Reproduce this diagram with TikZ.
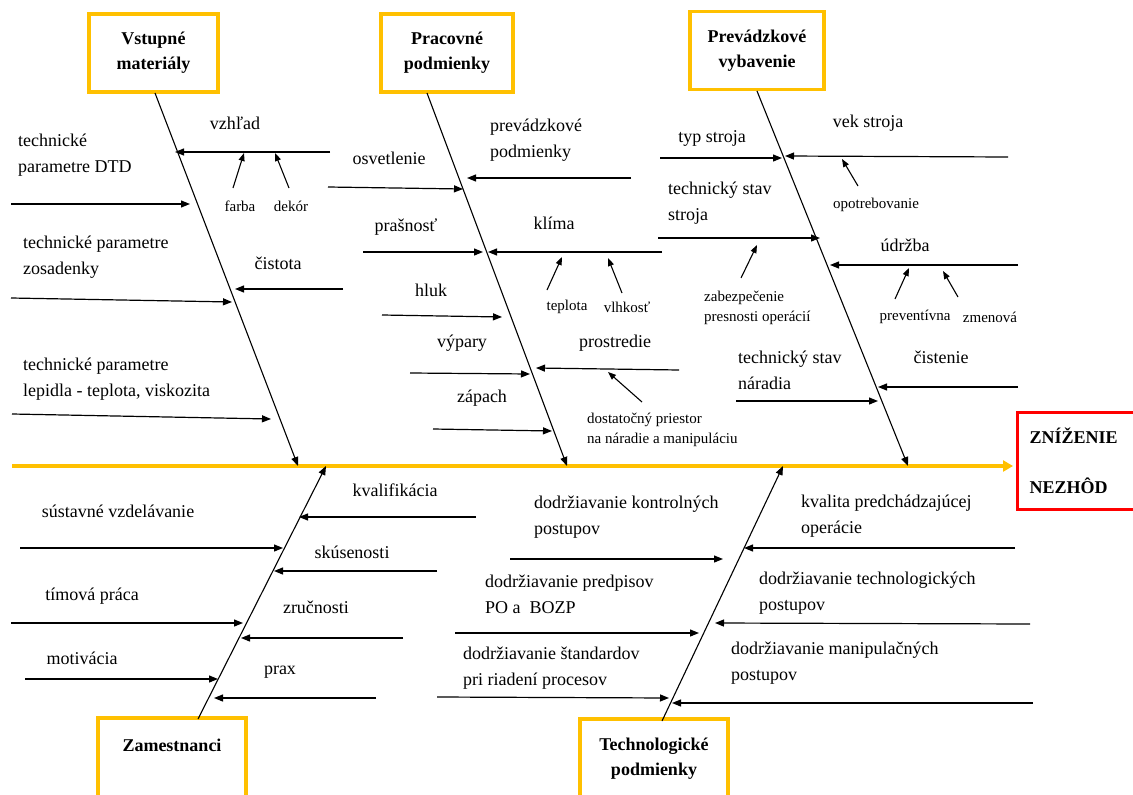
\documentclass[tikz,border=0pt]{standalone}
\usepackage{fontspec}
\setmainfont{Liberation Serif}
\usetikzlibrary{arrows.meta}
\definecolor{gold}{HTML}{FFC000}
\definecolor{nezred}{HTML}{FF0000}

\begin{document}
\begin{tikzpicture}[x=1pt,y=-1pt,
  catbox/.style={draw=gold,line width=3.5pt,minimum width=#1,minimum height=78pt,inner sep=0pt,align=center,font=\bfseries\fontsize{18}{25}\selectfont},
  effbox/.style={draw=nezred,line width=3pt,anchor=west,text width=118pt,inner xsep=12pt,inner ysep=0pt,minimum height=97pt,align=left,font=\bfseries\fontsize{18}{50}\selectfont},
  lbl/.style={inner sep=0pt,font=\fontsize{18}{26}\selectfont},
  lbll/.style={lbl,anchor=west,align=left},
  sml/.style={inner sep=0pt,font=\fontsize{15}{20}\selectfont},
  smll/.style={sml,anchor=west,align=left},
  spine/.style={draw=gold,line width=4pt,-{Triangle[length=10pt,width=11pt]}},
  bone/.style={line width=1.1pt,-{Triangle[length=9pt,width=7pt]}},
  sub/.style={line width=1.2pt,-{Triangle[length=9pt,width=7pt]}},
  twig/.style={line width=1.1pt,-{Triangle[length=8pt,width=6pt]}}]
\useasboundingbox (0,0) rectangle (1133,795);
\clip (0,0) rectangle (1133,795);
\fill[white] (0,0) rectangle (1133,795);

\node[catbox=129pt] (vm) at (153.5,53) {Vstupné\\materiály};
\node[catbox=132pt] (pp) at (447,53) {Pracovné\\podmienky};
\node[catbox=134pt] (pv) at (757,50.5) {Prevádzkové\\vybavenie};
\node[catbox=148pt,minimum height=80pt] (zm) at (172,758) {Zamestnanci\\\mbox{}};
\node[catbox=148pt,minimum height=80pt] (tp) at (654,759) {Technologické\\podmienky};
\node[effbox] (eff) at (1016,460.5) {ZNÍŽENIE\\NEZHÔD};

\coordinate (tail) at (12,466);
\draw[spine] (tail) -- ([xshift=-3pt]tail -| eff.west);

\foreach \n/\ax/\ay/\bx/\by in {vm/155/93/298/466, pp/427/93/567/466, pv/757/91/908/466,
    zm/198/719/326/466, tp/662/721/783/466}
  {\coordinate (\n-s) at (\ax,\ay); \coordinate (\n-e) at (\bx,\by);
   \draw[bone] (\n-s) -- (\n-e);}

\foreach \n/\ax/\ay/\bx/\by in {vzhl/330/152/175/152, dtd/11/204/190/204, zos/11/298/232/302,
    cist/343/289/235/289, lep/12/414/271/419,
    osv/328/187/463/189, prevp/631/178/467/178, pras/363/252/483/252, klima/662/252/488/252,
    hluk/382/315/502/317, vyp/410/373/530/374, prostr/679/370/536/368, zap/433/429/552/431,
    typ/660/158/782/158, vek/1008/157/785/156, tss/658/238/820/238, udrz/1018/265/830/265,
    cisten/1018/387/878/387, tsn/736/401/878/401,
    kval/476/517/299/517, sust/20/548/283/548, skus/437/571/274/571, tim/11/623/243/623,
    zruc/403/638/241/638, motiv/25/679/218/679, prax/376/698/214/698,
    kontr/510/559/723/559, kvalop/1015/548/744/548, bozp/455/633/699/633,
    techp/1030/624/715/623, stand/437/697/669/698, manip/1033/703/672/703}
  {\coordinate (\n-s) at (\ax,\ay); \coordinate (\n-e) at (\bx,\by);
   \draw[sub] (\n-s) -- (\n-e);}

\foreach \n/\ax/\ay/\bx/\by in {farba/233/188/244/153, dekor/289/188/275/153,
    tepl/547/290/562/257, vlhk/622/293/608/258, priest/642/402/608/372,
    opot/858/186/842/159, zabez/741/278/757/245, prev/895/299/909/268, zmen/958/297/943/271}
  {\coordinate (\n-s) at (\ax,\ay); \coordinate (\n-e) at (\bx,\by);
   \draw[twig] (\n-s) -- (\n-e);}

\node[lbl] (vzhl) at (235,123) {vzhľad};
\node[sml] (farba) at (240,206) {farba};
\node[sml] (dekor) at (291,206) {dekór};
\node[lbll] (dtd) at (18,155.5) {technické\\parametre DTD};
\node[lbll] (zos) at (23,257) {technické parametre\\zosadenky};
\node[lbl] (cist) at (278,263) {čistota};
\node[lbll] (lep) at (23,379.5) {technické parametre\\lepidla - teplota, viskozita};

\node[lbl] (osv) at (389,158) {osvetlenie};
\node[lbll] (prevp) at (490,140) {prevádzkové\\podmienky};
\node[lbl] (pras) at (406,227) {prašnosť};
\node[lbl] (klima) at (554,223) {klíma};
\node[sml] (tepl) at (567,307) {teplota};
\node[sml] (vlhk) at (627,307) {vlhkosť};
\node[lbl] (hluk) at (431,290) {hluk};
\node[lbl] (vyp) at (462,343) {výpary};
\node[lbl] (prostr) at (615,343) {prostredie};
\node[lbl] (zap) at (482,398) {zápach};
\node[smll] (priest) at (587,429.5) {dostatočný priestor\\na náradie a manipuláciu};

\node[lbl] (typ) at (712,138) {typ stroja};
\node[lbl] (vek) at (868,123) {vek stroja};
\node[sml] (opot) at (876,205) {opotrebovanie};
\node[lbll] (tss) at (668,203.5) {technický stav\\stroja};
\node[smll] (zabez) at (704,307.5) {zabezpečenie\\presnosti operácií};
\node[lbl] (udrz) at (905,245) {údržba};
\node[sml] (prev) at (915,317) {preventívna};
\node[sml] (zmen) at (990,317) {zmenová};
\node[lbl] (cisten) at (941,357) {čistenie};
\node[lbll] (tsn) at (738,370.5) {technický stav\\náradia};

\node[lbl] (kval) at (395,490) {kvalifikácia};
\node[lbl] (sust) at (118,511) {sústavné vzdelávanie};
\node[lbl] (skus) at (352,552) {skúsenosti};
\node[lbl] (tim) at (92,596) {tímová práca};
\node[lbl] (zruc) at (316,607) {zručnosti};
\node[lbl] (motiv) at (82,658) {motivácia};
\node[lbl] (prax) at (280,672) {prax};

\node[lbll] (kontr) at (534,517.5) {dodržiavanie kontrolných\\postupov};
\node[lbll] (bozp) at (485,594.5) {dodržiavanie predpisov\\PO a\ \ BOZP};
\node[lbll] (stand) at (463,668) {dodržiavanie štandardov\\pri riadení procesov};
\node[lbll] (kvalop) at (801,516.5) {kvalita predchádzajúcej\\operácie};
\node[lbll] (techp) at (759,593.5) {dodržiavanie technologických\\postupov};
\node[lbll] (manip) at (731,663.5) {dodržiavanie manipulačných\\postupov};
\end{tikzpicture}
\end{document}
